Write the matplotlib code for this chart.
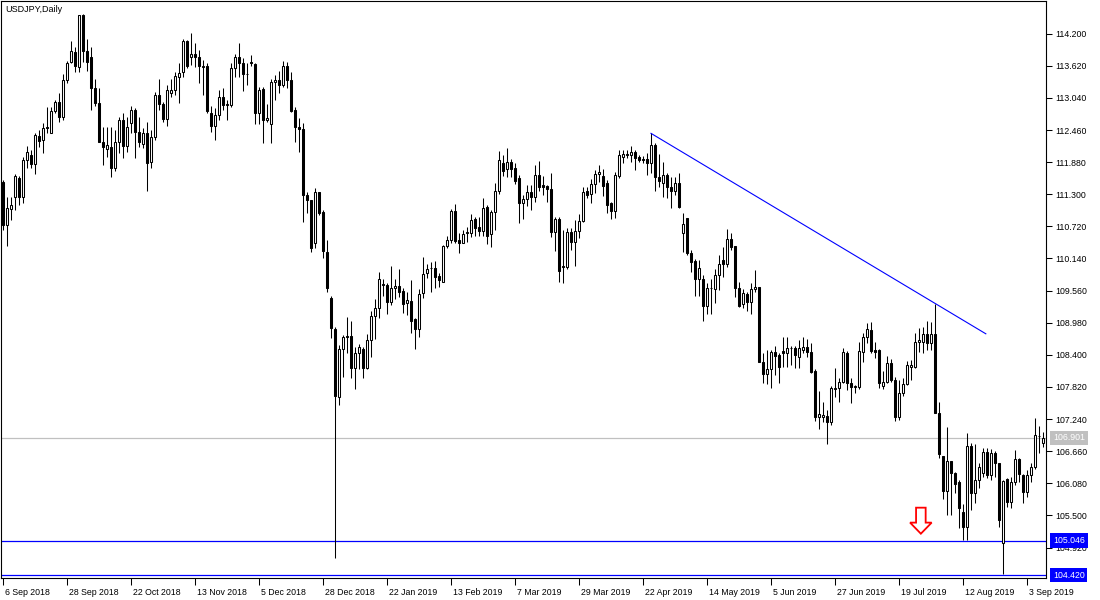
import matplotlib
matplotlib.use('Agg')
import matplotlib.pyplot as plt
import matplotlib.patches as patches
import matplotlib.transforms as mtransforms
from matplotlib.ticker import FormatStrFormatter
import numpy as np
import pandas as pd

plt.rcParams['font.family'] = ['Liberation Sans', 'DejaVu Sans']

symbol_title = 'USDJPY,Daily'
first_day = '2018-09-06'
holidays = ['2018-12-25', '2019-01-01']

# daily candles
opens = [
    111.52, 110.74, 111.03, 111.25, 111.59, 111.25, 111.92, 112.01, 111.84, 112.35,
    112.28, 112.51, 112.40, 112.80, 112.96, 112.69, 113.36, 113.69, 113.87, 113.60,
    114.53, 113.88, 113.78, 113.22, 112.95, 112.24, 112.11, 112.15, 111.77, 112.24,
    112.64, 112.17, 112.58, 112.82, 112.42, 112.21, 112.40, 111.88, 112.33, 113.09,
    112.93, 112.66, 113.13, 113.18, 113.41, 113.51, 114.07, 113.78, 113.83, 113.78,
    113.60, 113.61, 112.77, 112.53, 112.73, 113.05, 112.92, 112.91, 113.58, 113.78,
    113.67, 113.48, 113.69, 113.65, 112.77, 113.20, 112.64, 112.57, 113.33, 113.36,
    113.27, 113.61, 113.36, 112.82, 112.51, 112.48, 111.29, 111.20, 110.42, 111.34,
    110.98, 110.26, 109.43, 108.87, 107.64, 108.51, 108.74, 108.74, 108.16, 108.43,
    108.51, 108.16, 108.67, 109.10, 109.25, 109.67, 109.66, 109.35, 109.61, 109.64,
    109.55, 109.34, 109.37, 109.05, 108.87, 109.52, 109.88, 109.96, 109.97, 109.82,
    109.71, 110.36, 110.47, 111.00, 110.47, 110.42, 110.60, 110.60, 110.85, 110.71,
    110.64, 111.07, 110.58, 110.98, 111.36, 111.86, 111.75, 111.88, 111.77, 111.59,
    111.14, 111.21, 111.34, 111.25, 111.65, 111.47, 111.45, 111.39, 110.62, 110.85,
    110.00, 109.98, 110.62, 110.44, 110.64, 110.82, 111.36, 111.30, 111.48, 111.66,
    111.63, 111.50, 111.14, 111.00, 111.63, 111.97, 112.03, 112.01, 112.06, 111.97,
    111.93, 111.93, 111.86, 112.19, 111.61, 111.50, 111.65, 111.43, 111.36, 111.50,
    110.60, 110.87, 110.24, 110.09, 109.77, 109.77, 109.28, 109.60, 109.59, 109.84,
    110.11, 110.04, 110.49, 110.36, 109.61, 109.32, 109.50, 109.35, 109.59, 109.62,
    108.27, 108.05, 108.14, 108.45, 108.40, 108.47, 108.43, 108.52, 108.52, 108.36,
    108.49, 108.54, 108.45, 108.11, 107.28, 107.28, 107.30, 107.19, 107.78, 107.80,
    107.91, 108.43, 107.89, 107.82, 107.82, 108.45, 108.72, 108.85, 108.49, 108.49,
    107.84, 107.91, 108.25, 107.95, 107.28, 107.71, 107.87, 108.18, 108.18, 108.63,
    108.63, 108.78, 108.61, 108.78, 107.35, 106.57, 105.94, 106.48, 106.27, 106.11,
    105.56, 105.29, 106.75, 105.91, 106.14, 106.27, 106.65, 106.23, 106.63, 106.45,
    105.00, 106.16, 105.74, 106.11, 106.52, 106.23, 105.92, 106.23, 106.38, 106.94,
    106.81,
]
highs = [
    111.56, 111.25, 111.25, 111.66, 111.63, 111.97, 112.17, 112.10, 112.40, 112.46,
    112.58, 112.87, 112.87, 113.00, 113.13, 113.47, 113.70, 114.07, 113.96, 114.53,
    114.55, 114.10, 113.96, 113.38, 113.22, 112.51, 112.51, 112.51, 112.46, 112.69,
    112.76, 112.69, 112.89, 112.86, 112.69, 112.49, 112.60, 112.46, 113.14, 113.38,
    112.96, 113.27, 113.38, 113.51, 113.67, 114.10, 114.08, 114.21, 114.03, 113.90,
    113.72, 113.67, 112.89, 112.86, 113.18, 113.22, 113.00, 113.67, 113.83, 114.03,
    113.76, 113.67, 113.81, 113.67, 113.24, 113.24, 112.93, 113.38, 113.45, 113.52,
    113.70, 113.69, 113.51, 112.87, 112.67, 112.58, 111.34, 111.20, 111.41, 111.34,
    111.01, 110.47, 109.46, 108.90, 108.58, 108.76, 109.08, 109.01, 108.54, 108.60,
    108.54, 108.78, 109.19, 109.41, 109.89, 109.77, 109.70, 110.00, 109.77, 109.95,
    109.61, 109.53, 109.75, 109.07, 109.59, 110.17, 110.04, 110.08, 110.10, 109.88,
    110.38, 110.55, 111.03, 111.12, 110.60, 110.65, 110.71, 110.94, 110.89, 110.89,
    111.23, 111.10, 111.01, 111.50, 112.08, 112.01, 112.13, 111.94, 111.86, 111.65,
    111.28, 111.47, 111.47, 111.83, 111.90, 111.63, 111.47, 111.68, 110.89, 110.89,
    110.65, 110.69, 110.69, 110.83, 110.94, 111.43, 111.43, 111.57, 111.74, 111.83,
    111.75, 111.56, 111.16, 111.70, 112.10, 112.10, 112.10, 112.17, 112.10, 112.01,
    111.99, 112.04, 112.40, 112.22, 112.02, 111.88, 111.68, 111.61, 111.61, 111.68,
    110.96, 110.87, 110.29, 110.13, 110.11, 109.84, 109.70, 109.77, 109.95, 110.20,
    110.35, 110.67, 110.60, 110.36, 109.72, 109.59, 109.53, 109.70, 109.93, 109.62,
    108.43, 108.49, 108.49, 108.56, 108.43, 108.72, 108.72, 108.56, 108.56, 108.67,
    108.72, 108.69, 108.61, 108.14, 107.75, 107.55, 107.40, 107.84, 108.16, 107.98,
    108.52, 108.47, 107.98, 107.86, 108.63, 108.79, 108.97, 108.99, 108.63, 108.51,
    108.11, 108.38, 108.32, 108.00, 107.95, 107.98, 108.29, 108.31, 108.79, 108.88,
    108.90, 109.01, 108.99, 109.32, 107.55, 106.57, 107.10, 106.48, 106.29, 106.14,
    105.71, 106.99, 106.81, 106.79, 106.45, 106.72, 106.72, 106.70, 106.66, 106.45,
    106.14, 106.18, 106.20, 106.68, 106.54, 106.25, 106.32, 106.45, 107.26, 107.12,
    107.01,
]
lows = [
    110.65, 110.36, 110.83, 111.01, 111.10, 111.14, 111.77, 111.77, 111.66, 112.15,
    112.04, 112.40, 112.40, 112.77, 112.60, 112.64, 113.31, 113.67, 113.50, 113.50,
    113.69, 113.52, 112.82, 112.89, 112.24, 111.83, 111.97, 111.61, 111.72, 112.04,
    111.95, 112.06, 112.40, 111.95, 112.15, 112.13, 111.36, 111.77, 112.28, 112.82,
    112.60, 112.53, 113.05, 113.09, 112.95, 113.41, 113.58, 113.63, 113.60, 113.31,
    113.09, 112.77, 112.42, 112.28, 112.64, 112.82, 112.64, 112.87, 113.41, 113.41,
    113.16, 113.27, 113.61, 112.57, 112.57, 112.22, 112.60, 112.22, 113.00, 113.13,
    113.24, 113.22, 112.78, 112.24, 112.06, 110.80, 110.96, 110.26, 110.33, 110.92,
    110.15, 109.53, 108.70, 104.73, 107.50, 108.00, 108.43, 107.98, 107.78, 108.14,
    107.98, 108.14, 108.36, 108.69, 109.07, 109.46, 109.14, 109.30, 109.41, 109.44,
    109.16, 109.12, 108.79, 108.51, 108.72, 109.43, 109.79, 109.53, 109.61, 109.62,
    109.71, 110.33, 110.42, 110.42, 110.24, 110.42, 110.44, 110.53, 110.55, 110.55,
    110.55, 110.40, 110.35, 110.65, 111.30, 111.63, 111.61, 111.61, 111.48, 110.78,
    110.85, 111.09, 111.01, 111.16, 111.36, 111.29, 111.16, 110.53, 110.27, 109.72,
    109.70, 109.95, 110.29, 110.00, 110.51, 110.80, 111.23, 111.14, 111.32, 111.52,
    111.27, 110.96, 110.85, 110.87, 111.59, 111.86, 111.95, 111.88, 111.74, 111.88,
    111.86, 111.65, 111.68, 111.36, 111.43, 111.25, 111.23, 111.05, 111.29, 111.05,
    110.26, 110.20, 109.90, 109.46, 109.46, 109.01, 109.14, 109.14, 109.34, 109.57,
    109.81, 109.99, 110.29, 109.44, 109.26, 109.25, 109.19, 109.14, 109.53, 108.27,
    107.89, 107.87, 107.80, 108.04, 107.89, 108.18, 108.18, 108.21, 108.16, 108.16,
    108.43, 108.36, 108.07, 107.21, 107.06, 107.19, 106.79, 107.13, 107.64, 107.55,
    107.89, 107.77, 107.53, 107.71, 107.78, 108.27, 108.61, 108.43, 108.34, 107.80,
    107.78, 107.89, 107.91, 107.21, 107.22, 107.66, 107.86, 107.95, 108.16, 108.45,
    108.43, 108.49, 108.49, 107.35, 106.54, 105.80, 105.51, 105.51, 105.91, 105.28,
    105.06, 105.06, 105.60, 105.73, 106.00, 106.20, 106.18, 106.14, 106.20, 105.29,
    104.45, 105.65, 105.64, 106.05, 106.11, 105.73, 105.83, 106.11, 106.34, 106.63,
    106.74,
]
closes = [
    110.74, 111.05, 111.10, 111.63, 111.25, 111.92, 112.06, 111.84, 112.37, 112.26,
    112.50, 112.50, 112.80, 112.96, 112.69, 113.36, 113.67, 113.88, 113.61, 114.53,
    113.88, 113.69, 113.22, 112.95, 112.24, 112.15, 112.19, 111.77, 112.24, 112.64,
    112.17, 112.51, 112.82, 112.42, 112.24, 112.40, 111.86, 112.33, 113.09, 112.93,
    112.66, 113.18, 113.18, 113.43, 113.49, 114.07, 113.61, 113.83, 113.78, 113.61,
    113.61, 112.80, 112.53, 112.73, 113.05, 112.91, 112.93, 113.58, 113.78, 113.67,
    113.47, 113.47, 113.67, 112.77, 113.18, 112.64, 112.67, 113.33, 113.36, 113.27,
    113.61, 113.36, 112.80, 112.51, 112.48, 111.29, 111.20, 110.33, 111.34, 110.96,
    110.27, 109.61, 108.88, 107.66, 108.51, 108.72, 108.72, 108.16, 108.43, 108.54,
    108.16, 108.67, 109.10, 109.25, 109.77, 109.68, 109.35, 109.61, 109.64, 109.53,
    109.32, 109.39, 109.01, 108.87, 109.50, 109.86, 109.95, 109.97, 109.81, 109.75,
    110.36, 110.47, 111.00, 110.46, 110.42, 110.58, 110.62, 110.83, 110.69, 110.64,
    111.05, 110.55, 110.98, 111.36, 111.92, 111.72, 111.88, 111.75, 111.54, 111.14,
    111.21, 111.34, 111.25, 111.65, 111.43, 111.43, 111.39, 110.62, 110.85, 109.91,
    109.98, 110.62, 110.44, 110.64, 110.82, 111.34, 111.29, 111.48, 111.66, 111.70,
    111.45, 111.10, 111.00, 111.65, 112.01, 112.03, 112.01, 112.06, 111.95, 111.92,
    111.92, 111.86, 112.19, 111.61, 111.54, 111.65, 111.43, 111.36, 111.50, 111.07,
    110.76, 110.24, 110.08, 109.77, 109.97, 109.28, 109.61, 109.61, 109.84, 110.04,
    110.04, 110.49, 110.35, 109.61, 109.28, 109.52, 109.35, 109.59, 109.62, 108.27,
    108.05, 108.14, 108.45, 108.38, 108.18, 108.43, 108.52, 108.53, 108.40, 108.52,
    108.54, 108.45, 108.09, 107.28, 107.33, 107.31, 107.19, 107.80, 107.80, 107.91,
    108.45, 107.89, 107.82, 107.83, 108.47, 108.72, 108.87, 108.47, 108.45, 107.89,
    107.91, 108.25, 107.95, 107.28, 107.71, 107.87, 108.22, 108.22, 108.63, 108.67,
    108.78, 108.61, 108.78, 107.35, 106.61, 105.94, 106.48, 106.27, 106.07, 105.64,
    105.29, 106.75, 105.91, 106.14, 106.38, 106.65, 106.23, 106.63, 106.45, 105.42,
    106.12, 105.74, 106.11, 106.52, 106.25, 105.92, 106.23, 106.38, 106.95, 106.93,
    106.90,
]

# horizontal levels, trend line and marker drawn on the chart
support_level = 105.046
low_level = 104.420
last_price = 106.901
trend_bars = [162, 245.75]
trend_prices = [112.40, 108.78]
arrow_bar = 229.5
arrow_top = 105.64
arrow_tip = 105.17

price_tick_first = 104.92
price_tick_step = 0.58
date_label_every = 16

dates = pd.bdate_range(first_day, periods=len(opens), freq='C', holidays=holidays)
o = np.array(opens)
h = np.array(highs)
l = np.array(lows)
c = np.array(closes)
x = np.arange(len(o))
up = c >= o

fig = plt.figure(figsize=(11, 6), dpi=100, facecolor='white')
ax = fig.add_axes([0.5 / 1100, 22 / 600, 1045.5 / 1100, 577 / 600])

ax.axhline(last_price, color='#c0c0c0', lw=0.9, zorder=1)
ax.axhline(support_level, color='#0000ff', lw=0.9, zorder=1)
ax.axhline(low_level, color='#0000ff', lw=0.9, zorder=1)

ax.vlines(x, l, h, color='black', lw=0.75, zorder=2)
body = np.where(np.abs(c - o) < 0.005, 0.005, c - o)
ax.bar(x, body, bottom=o, width=0.5, color=np.where(up, 'white', 'black'),
       edgecolor='black', linewidth=0.75, zorder=3)

ax.plot(trend_bars, trend_prices, color='#0000ff', lw=0.8, zorder=4)

arrow = patches.FancyArrow(arrow_bar, arrow_top, 0, arrow_tip - arrow_top,
                           width=2.4, head_width=5.4, head_length=0.2,
                           length_includes_head=True, facecolor='white',
                           edgecolor='#ff0000', lw=1.3, zorder=4)
ax.add_patch(arrow)

ax.set_xlim(-0.7, 260.8)
ax.set_ylim(104.37, 114.79)

for s in ax.spines.values():
    s.set_linewidth(0.8)
    s.set_color('black')

ax.yaxis.tick_right()
ax.set_yticks(np.arange(price_tick_first, 114.5, price_tick_step))
ax.yaxis.set_major_formatter(FormatStrFormatter('%.3f'))
ax.tick_params(axis='y', direction='out', length=4, width=0.75, pad=2.5,
               labelsize=6.3, colors='black')

tick_idx = x[::date_label_every]
ax.set_xticks(tick_idx)
ax.set_xticklabels([f'{d.day} {d.strftime("%b %Y")}' for d in dates[tick_idx]], ha='left')
ax.tick_params(axis='x', direction='out', length=5, width=0.75, pad=2,
               labelsize=6.3, colors='black')
shift = mtransforms.ScaledTranslation(2 / 100, 0, fig.dpi_scale_trans)
for lab in ax.get_xticklabels():
    lab.set_transform(lab.get_transform() + shift)

# price boxes on the right scale
box_tr = ax.get_yaxis_transform() + mtransforms.ScaledTranslation(7 / 100, 0, fig.dpi_scale_trans)
for level, fc in [(last_price, '#c0c0c0'), (support_level, '#0000ff'), (low_level, '#0000ff')]:
    ax.text(1.0, level, f'{level:.3f}', transform=box_tr, ha='left', va='center',
            color='white', fontsize=6.3, clip_on=False, zorder=6,
            bbox=dict(boxstyle='square,pad=0.3', fc=fc, ec='none'))

ax.text(5 / 1045, 1 - 9 / 577, symbol_title, transform=ax.transAxes,
        ha='left', va='center', fontsize=6.5, color='black')

fig.savefig('out.png', dpi=100, facecolor='white')
